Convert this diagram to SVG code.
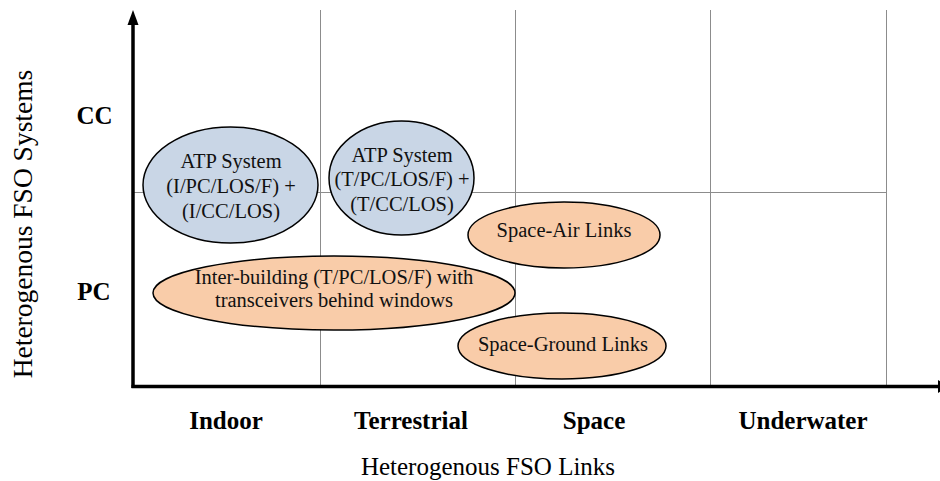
<svg xmlns="http://www.w3.org/2000/svg" width="940" height="481" viewBox="0 0 940 481">
<style>
.grid{stroke:#8c8c8c;stroke-width:1;fill:none}
.axis{stroke:#000;stroke-width:3.5;fill:none}
.blue{fill:#c9d6e6;stroke:#000;stroke-width:1.5}
.orange{fill:#f9cca9;stroke:#000;stroke-width:1.5}
.t{font-family:"Liberation Serif","Times New Roman",serif;font-size:20.5px;fill:#111;text-anchor:middle}
.lab{font-family:"Liberation Serif","Times New Roman",serif;font-size:25px;font-weight:bold;fill:#000;text-anchor:middle}
.title{font-family:"Liberation Serif","Times New Roman",serif;fill:#000;text-anchor:middle}
</style>
<rect width="940" height="481" fill="#fff"/>
<g id="grid">
<line class="grid" x1="320.5" y1="10" x2="320.5" y2="386"/>
<line class="grid" x1="515.5" y1="10" x2="515.5" y2="386"/>
<line class="grid" x1="710.5" y1="10" x2="710.5" y2="386"/>
<line class="grid" x1="886.5" y1="10" x2="886.5" y2="386"/>
<line class="grid" x1="133" y1="192.5" x2="886.5" y2="192.5"/>
</g>
<g id="axes">
<line class="axis" x1="133" y1="388" x2="133" y2="22"/>
<polygon points="133,10 127.5,25 138.5,25" fill="#000"/>
<line class="axis" x1="131.5" y1="386.5" x2="939" y2="386.5"/>
<polygon points="938,380 948,386.5 938,393" fill="#000"/>
</g>
<g id="atp-indoor">
<ellipse class="blue" cx="230.5" cy="185" rx="87.5" ry="58"/>
<text class="t" x="231" y="168">ATP System</text>
<text class="t" x="231" y="193">(I/PC/LOS/F) +</text>
<text class="t" x="231" y="218">(I/CC/LOS)</text>
</g>
<g id="atp-terrestrial">
<ellipse class="blue" cx="401.5" cy="178" rx="72.5" ry="57"/>
<text class="t" x="402" y="162">ATP System</text>
<text class="t" x="402" y="186">(T/PC/LOS/F) +</text>
<text class="t" x="402" y="211">(T/CC/LOS)</text>
</g>
<g id="space-air">
<ellipse class="orange" cx="564" cy="235" rx="96" ry="33"/>
<text class="t" x="564" y="237">Space-Air Links</text>
</g>
<g id="inter-building">
<ellipse class="orange" cx="334" cy="293" rx="181" ry="37"/>
<text class="t" x="334" y="284">Inter-building (T/PC/LOS/F) with</text>
<text class="t" x="334" y="307">transceivers behind windows</text>
</g>
<g id="space-ground">
<ellipse class="orange" cx="562" cy="346" rx="104" ry="33"/>
<text class="t" x="563" y="351">Space-Ground Links</text>
</g>
<g id="labels">
<text class="lab" x="94.5" y="124">CC</text>
<text class="lab" x="94" y="300">PC</text>
<text class="lab" x="226" y="429">Indoor</text>
<text class="lab" x="411" y="429">Terrestrial</text>
<text class="lab" x="594" y="429">Space</text>
<text class="lab" x="803" y="429">Underwater</text>
<text class="title" x="488" y="475" font-size="25">Heterogenous FSO Links</text>
<text class="title" font-size="27.5" transform="translate(32,224) rotate(-90)">Heterogenous FSO Systems</text>
</g>
</svg>
